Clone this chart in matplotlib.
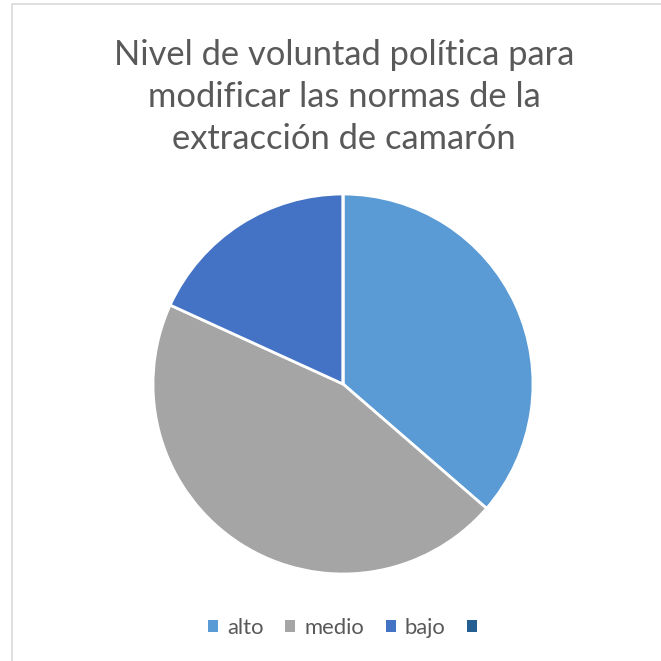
import matplotlib.pyplot as plt
from matplotlib.patches import Rectangle

labels = ['alto', 'medio', 'bajo', '']
values = [4, 5, 2, 0]
colors = ['#5B9BD5', '#A5A5A5', '#4472C4', '#255E91']
title = 'Nivel de voluntad política para\nmodificar las normas de la\nextracción de camarón'

plt.rcParams['font.family'] = ['Lato', 'DejaVu Sans']

fig = plt.figure(figsize=(6.61, 6.61), dpi=100)
fig.patch.set_facecolor('white')

# chart frame
fig.patches.append(Rectangle((12/661, -0.01), 1.0, 1 - 4/661 + 0.01, transform=fig.transFigure,
                             fill=False, edgecolor='#D9D9D9', linewidth=1.2))

r = 190/661
ax = fig.add_axes([343/661 - r, 1 - 384/661 - r, 2*r, 2*r])
wedges, _ = ax.pie(values, colors=colors, startangle=90, counterclock=False,
                   wedgeprops=dict(edgecolor='white', linewidth=2))
ax.set_aspect('equal')
ax.set_xlim(-1, 1)
ax.set_ylim(-1, 1)

fig.text(344/661, 1 - 97/661, title, ha='center', va='center', fontsize=24.8,
         color='#595959', linespacing=1.38)

handles = [Rectangle((0, 0), 1, 1, facecolor=c, edgecolor='none') for c in colors]
fig.legend(handles, labels, loc='center', bbox_to_anchor=(347/661, 1 - 628/661), ncol=4,
           frameon=False, fontsize=15.8, labelcolor='#595959', handlelength=0.45,
           handleheight=0.45, handletextpad=0.4, columnspacing=1.0)

fig.savefig('out.png', dpi=100)
